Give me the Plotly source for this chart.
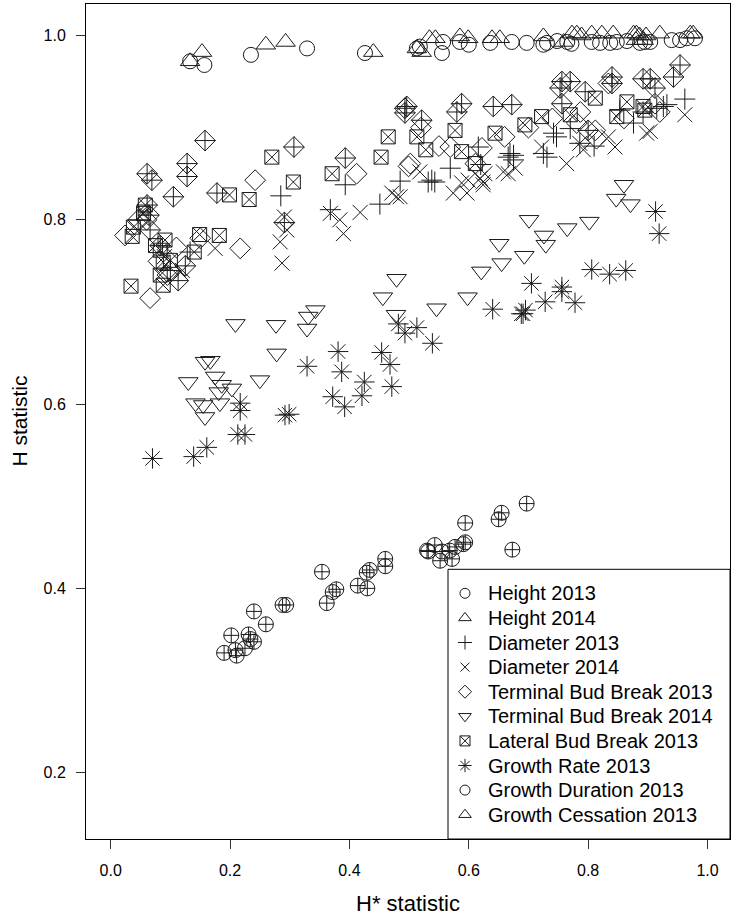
import plotly.graph_objects as go

# ---------------- data ----------------
series_names = [
    "Height 2013", "Height 2014", "Diameter 2013", "Diameter 2014",
    "Terminal Bud Break 2013", "Terminal Bud Break 2014",
    "Lateral Bud Break 2013", "Growth Rate 2013",
    "Growth Duration 2013", "Growth Cessation 2013",
]

height13_x = [0.133, 0.157, 0.235, 0.329, 0.426, 0.513, 0.518, 0.555, 0.557, 0.585, 0.600, 0.636,
              0.672, 0.697, 0.725, 0.731, 0.748, 0.765, 0.772, 0.806, 0.820, 0.837, 0.848, 0.865,
              0.887, 0.895, 0.904, 0.940, 0.954, 0.965, 0.979]
height13_y = [0.972, 0.968, 0.979, 0.986, 0.981, 0.986, 0.988, 0.981, 0.993, 0.993, 0.990, 0.992,
              0.993, 0.992, 0.990, 0.992, 0.994, 0.993, 0.991, 0.993, 0.992, 0.992, 0.993, 0.994,
              0.992, 0.993, 0.993, 0.995, 0.995, 0.997, 0.997]

height14_x = [0.133, 0.153, 0.260, 0.293, 0.440, 0.513, 0.521, 0.534, 0.544, 0.585, 0.599, 0.639,
              0.652, 0.725, 0.759, 0.773, 0.781, 0.789, 0.806, 0.823, 0.842, 0.876, 0.881, 0.886,
              0.897, 0.880, 0.893, 0.920, 0.971, 0.976]
height14_y = [0.972, 0.982, 0.990, 0.993, 0.982, 0.986, 0.982, 0.997, 0.997, 0.999, 0.997, 0.997,
              0.997, 0.999, 0.993, 1.002, 1.002, 1.000, 1.002, 1.002, 1.002, 1.002, 1.002, 1.000,
              1.000, 0.995, 0.995, 1.002, 1.002, 1.002]

diam13_x = [0.962, 0.932, 0.926, 0.915, 0.892, 0.876, 0.853, 0.786, 0.770, 0.747, 0.742, 0.731,
            0.725, 0.675, 0.669, 0.666, 0.675, 0.616, 0.620, 0.569, 0.543, 0.538, 0.532, 0.485,
            0.451, 0.393, 0.368, 0.285, 0.133, 0.810]
diam13_y = [0.931, 0.925, 0.923, 0.921, 0.917, 0.905, 0.919, 0.883, 0.899, 0.890, 0.894, 0.868,
            0.872, 0.870, 0.872, 0.868, 0.865, 0.879, 0.860, 0.856, 0.841, 0.843, 0.841, 0.842,
            0.817, 0.838, 0.811, 0.826, 0.765, 0.880]

diam14_x = [0.962, 0.904, 0.898, 0.845, 0.834, 0.792, 0.786, 0.764, 0.722, 0.678, 0.658, 0.666,
            0.627, 0.619, 0.624, 0.599, 0.588, 0.574, 0.597, 0.624, 0.518, 0.485, 0.479, 0.471,
            0.418, 0.384, 0.368, 0.390, 0.291, 0.295, 0.284, 0.287, 0.175, 0.090, 0.120]
diam14_y = [0.914, 0.896, 0.894, 0.879, 0.890, 0.876, 0.883, 0.861, 0.879, 0.856, 0.852, 0.850,
            0.850, 0.845, 0.841, 0.843, 0.840, 0.829, 0.829, 0.838, 0.852, 0.825, 0.825, 0.829,
            0.808, 0.800, 0.807, 0.785, 0.803, 0.789, 0.776, 0.753, 0.769, 0.760, 0.745]

tbb13_x = [0.024, 0.066, 0.217, 0.242, 0.412, 0.499, 0.502, 0.569, 0.622, 0.611, 0.781, 0.787,
           0.812, 0.814, 0.834, 0.920, 0.912, 0.080, 0.095, 0.110, 0.060, 0.150, 0.520, 0.550,
           0.660, 0.700, 0.860, 0.740]
tbb13_y = [0.783, 0.715, 0.769, 0.843, 0.850, 0.858, 0.861, 0.879, 0.878, 0.861, 0.905, 0.917,
           0.897, 0.888, 0.948, 0.917, 0.926, 0.755, 0.740, 0.770, 0.800, 0.780, 0.900, 0.880,
           0.890, 0.900, 0.910, 0.910]

tbb14_x = [0.158, 0.142, 0.155, 0.183, 0.181, 0.203, 0.186, 0.175, 0.130, 0.158, 0.167, 0.209,
           0.250, 0.278, 0.277, 0.329, 0.331, 0.343, 0.478, 0.456, 0.479, 0.546, 0.598, 0.621,
           0.655, 0.651, 0.693, 0.701, 0.726, 0.729, 0.765, 0.802, 0.847, 0.871, 0.860]
tbb14_y = [0.586, 0.601, 0.599, 0.601, 0.613, 0.617, 0.621, 0.630, 0.624, 0.646, 0.647, 0.687,
           0.626, 0.655, 0.686, 0.682, 0.695, 0.702, 0.697, 0.716, 0.736, 0.704, 0.716, 0.744,
           0.753, 0.774, 0.761, 0.800, 0.783, 0.773, 0.791, 0.798, 0.823, 0.817, 0.838]

lbb13_x = [0.034, 0.036, 0.038, 0.055, 0.058, 0.075, 0.083, 0.088, 0.083, 0.088, 0.100, 0.091,
           0.140, 0.149, 0.182, 0.199, 0.232, 0.270, 0.306, 0.371, 0.453, 0.465, 0.513, 0.528,
           0.577, 0.588, 0.611, 0.644, 0.694, 0.722, 0.770, 0.812, 0.848, 0.865, 0.892, 0.895]
lbb13_y = [0.728, 0.782, 0.792, 0.807, 0.816, 0.772, 0.767, 0.754, 0.740, 0.729, 0.756, 0.778,
           0.765, 0.784, 0.783, 0.827, 0.822, 0.868, 0.841, 0.850, 0.868, 0.890, 0.890, 0.876,
           0.897, 0.874, 0.861, 0.894, 0.903, 0.912, 0.914, 0.932, 0.912, 0.928, 0.923, 0.919]

grate13_x = [0.070, 0.139, 0.161, 0.217, 0.217, 0.225, 0.213, 0.292, 0.299, 0.329, 0.381, 0.387,
             0.372, 0.392, 0.421, 0.425, 0.454, 0.468, 0.471, 0.482, 0.493, 0.513, 0.539, 0.640,
             0.688, 0.691, 0.695, 0.705, 0.728, 0.756, 0.756, 0.778, 0.806, 0.836, 0.863, 0.913,
             0.919]
grate13_y = [0.541, 0.543, 0.553, 0.601, 0.593, 0.567, 0.567, 0.588, 0.589, 0.641, 0.657, 0.635,
             0.608, 0.597, 0.609, 0.624, 0.656, 0.643, 0.619, 0.687, 0.677, 0.683, 0.666, 0.703,
             0.698, 0.698, 0.702, 0.731, 0.711, 0.727, 0.722, 0.710, 0.746, 0.741, 0.745, 0.809,
             0.785]

gdur13_x = [0.158, 0.128, 0.128, 0.061, 0.069, 0.307, 0.393, 0.493, 0.493, 0.105, 0.178, 0.496,
            0.521, 0.588, 0.580, 0.641, 0.672, 0.756, 0.770, 0.753, 0.795, 0.756, 0.800, 0.840,
            0.840, 0.892, 0.904, 0.912, 0.954, 0.943, 0.291, 0.061, 0.064, 0.066, 0.083, 0.100,
            0.113, 0.125, 0.046]
gdur13_y = [0.886, 0.861, 0.847, 0.850, 0.843, 0.879, 0.867, 0.921, 0.916, 0.825, 0.829, 0.923,
            0.908, 0.926, 0.917, 0.923, 0.925, 0.950, 0.950, 0.943, 0.939, 0.926, 0.897, 0.955,
            0.948, 0.953, 0.953, 0.943, 0.968, 0.955, 0.797, 0.816, 0.805, 0.789, 0.772, 0.745,
            0.734, 0.750, 0.800]

gcess13_x = [0.697, 0.655, 0.650, 0.594, 0.673, 0.594, 0.591, 0.577, 0.568, 0.572, 0.555, 0.552,
             0.543, 0.532, 0.530, 0.460, 0.460, 0.434, 0.429, 0.414, 0.430, 0.354, 0.378, 0.372,
             0.362, 0.294, 0.288, 0.240, 0.260, 0.202, 0.231, 0.234, 0.240, 0.225, 0.209, 0.190,
             0.211]
gcess13_y = [0.492, 0.482, 0.475, 0.471, 0.442, 0.450, 0.448, 0.445, 0.441, 0.432, 0.440, 0.430,
             0.447, 0.440, 0.441, 0.432, 0.424, 0.420, 0.417, 0.403, 0.400, 0.418, 0.399, 0.396,
             0.384, 0.382, 0.382, 0.375, 0.361, 0.349, 0.350, 0.345, 0.342, 0.335, 0.333, 0.330,
             0.327]

x_ticks = [0.0, 0.2, 0.4, 0.6, 0.8, 1.0]
x_tick_labels = ["0.0", "0.2", "0.4", "0.6", "0.8", "1.0"]
y_ticks = [0.2, 0.4, 0.6, 0.8, 1.0]
y_tick_labels = ["0.2", "0.4", "0.6", "0.8", "1.0"]
x_title = "H* statistic"
y_title = "H statistic"

# ---------------- styles ----------------
series_data = [
    (height13_x, height13_y), (height14_x, height14_y), (diam13_x, diam13_y),
    (diam14_x, diam14_y), (tbb13_x, tbb13_y), (tbb14_x, tbb14_y),
    (lbb13_x, lbb13_y), (grate13_x, grate13_y), (gdur13_x, gdur13_y),
    (gcess13_x, gcess13_y),
]
plot_symbols = ["circle-open", "triangle-up-open", "cross-thin-open", "x-thin-open",
                "diamond-open", "triangle-down-open", "square-x-open", "asterisk-open",
                "diamond-cross-open", "circle-cross-open"]
plot_sizes = [15, 17, 15, 15, 16, 17, 14, 17, 16, 15]
legend_symbols = ["circle-open", "triangle-up-open", "cross-thin-open", "x-thin-open",
                  "diamond-open", "triangle-down-open", "square-x-open", "asterisk-open",
                  "circle-open", "triangle-up-open"]
legend_sizes = [10, 11, 10, 9, 10, 11, 10, 11, 10, 11]

INK = "#1a1a1a"
fig = go.Figure()
for name, (xs, ys), sym, sz in zip(series_names, series_data, plot_symbols, plot_sizes):
    fig.add_trace(go.Scatter(
        x=xs, y=ys, mode="markers", name=name, showlegend=False,
        marker=dict(symbol=sym, size=sz, color=INK, line=dict(color=INK, width=1)),
    ))

# ---------------- hand-made legend (pixel frame overlay) ----------------
W, H = 732, 915
PL, PR, PT, PB = 86, 730, 4, 839
leg_left, leg_top = 448, 569.3
row0, row_step = 593.3, 24.6
sym_x, text_x = 465, 485.7
rows = [row0 + row_step * i for i in range(len(series_names))]
for i, (sym, sz) in enumerate(zip(legend_symbols, legend_sizes)):
    fig.add_trace(go.Scatter(
        x=[sym_x], y=[rows[i]], mode="markers", xaxis="x2", yaxis="y2",
        showlegend=False, hoverinfo="skip",
        marker=dict(symbol=sym, size=sz, color=INK, line=dict(color=INK, width=1)),
    ))
    fig.add_annotation(x=text_x, y=rows[i], xref="x2", yref="y2", text=series_names[i],
                       showarrow=False, xanchor="left", yanchor="middle",
                       font=dict(size=20, color="black"))
fig.add_shape(type="rect", xref="x2", yref="y2", x0=leg_left, x1=PR, y0=leg_top, y1=PB,
              line=dict(color="black", width=1), fillcolor="rgba(0,0,0,0)")

# axis titles (paper coordinates)
def px_to_paper_x(px):
    return (px - PL) / (PR - PL)

def px_to_paper_y(py):
    return (PB - py) / (PB - PT)

fig.add_annotation(x=0.5, y=px_to_paper_y(903), xref="paper", yref="paper", text=x_title,
                   showarrow=False, xanchor="center", yanchor="middle",
                   font=dict(size=22, color="black"))
fig.add_annotation(x=px_to_paper_x(19), y=0.5, xref="paper", yref="paper", text=y_title,
                   showarrow=False, textangle=-90, xanchor="center", yanchor="middle",
                   font=dict(size=21, color="black"))

fig.update_layout(
    width=W, height=H,
    margin=dict(l=PL, r=W - PR, t=PT, b=H - PB),
    plot_bgcolor="white", paper_bgcolor="white",
    showlegend=False,
    font=dict(family="Liberation Sans, Arial, sans-serif", color="black"),
    xaxis=dict(range=[-0.0414, 1.0377], tickvals=x_ticks, ticktext=x_tick_labels,
               ticks="outside", ticklen=9, tickcolor="#333", tickwidth=1,
               showline=True, mirror=True, linecolor="black", linewidth=1,
               showgrid=False, zeroline=False, tickfont=dict(size=16),
               ticklabelstandoff=8),
    yaxis=dict(range=[0.128, 1.0342], tickvals=y_ticks, ticktext=y_tick_labels,
               ticks="outside", ticklen=9, tickcolor="#333", tickwidth=1,
               showline=True, mirror=True, linecolor="black", linewidth=1,
               showgrid=False, zeroline=False, tickfont=dict(size=16),
               ticklabelstandoff=7),
    xaxis2=dict(overlaying="x", range=[PL, PR], visible=False, fixedrange=True),
    yaxis2=dict(overlaying="y", range=[PB, PT], visible=False, fixedrange=True),
)

fig.write_html("out.html")
